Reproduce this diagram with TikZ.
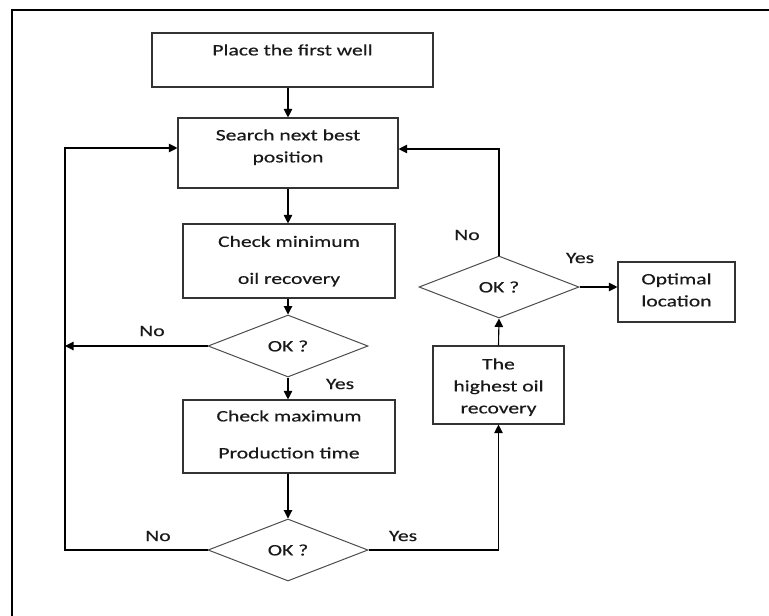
\documentclass[tikz,border=0pt]{standalone}
\usepackage{fontspec}
\setmainfont[FakeStretch=1.35,FakeBold=0.4]{Carlito}
\usetikzlibrary{shapes.geometric,arrows.meta}
% stacked, centred lines drawn #1 higher than the box's own centre
\newcommand\boxtext[2]{\raisebox{#1}[\height][\depth]{\begin{tabular}{@{}c@{}}#2\end{tabular}}}

\begin{document}
\begin{tikzpicture}[x=1pt,y=-1pt,
  every node/.style={font=\fontsize{16}{22}\selectfont, text=black!90},
  stepbox/.style={draw=black!80, line width=1.1pt, inner sep=0pt},
  test/.style={shape=diamond, draw=black!70, line width=1pt,
    minimum width=160pt, minimum height=62pt, inner sep=0pt},
  flow/.style={draw=black, line width=1.1pt, -{Triangle[length=8.5pt,width=8.5pt]}},
  tag/.style={inner sep=0pt}]
\useasboundingbox (0,0) rectangle (769,616);

% frame
\draw[line width=1.5pt] (12,616) -- (12,10) -- (769,10);

% process boxes
\node[stepbox, minimum width=281pt, minimum height=54pt] (place) at (292.5,60)
  {\boxtext{9pt}{Place the first well}};
\node[stepbox, minimum width=220pt, minimum height=70pt] (search) at (288,153)
  {\boxtext{6pt}{Search next best\\position}};
\node[stepbox, minimum width=212pt, minimum height=74pt] (checkmin) at (289,261)
  {\boxtext{0pt}{Check minimum\\[15pt]oil recovery}};
\node[stepbox, minimum width=212pt, minimum height=73pt] (checkmax) at (289,436.5)
  {\boxtext{1pt}{Check maximum\\[15pt]Production time}};
\node[stepbox, minimum width=131pt, minimum height=78pt] (highest) at (498.5,385)
  {\boxtext{-2pt}{The\\highest oil\\recovery}};
\node[stepbox, minimum width=117pt, minimum height=60pt] (optimal) at (676.5,292)
  {\boxtext{1pt}{Optimal\\location}};

% decisions
\node[test] (okmin) at (288,346) {OK ?};
\node[test] (okmax) at (288,550) {OK ?};
\node[test] (okbest) at (499,287) {OK ?};

% free ends of the loops
\coordinate (noend) at (65,346);
\coordinate (loopleft) at (65,148);
\coordinate (loopright) at (498,149);

% connectors
\draw[flow] (search.north |- place.south) -- (search.north);
\draw[flow] (search.south) -- (search.south |- checkmin.north);
\draw[flow] (okmin.north |- checkmin.south) -- (okmin.north);
\draw[flow] (okmin.west) -- (noend);
\draw[flow] (okmin.south) -- (okmin.south |- checkmax.north);
\draw[flow] (okmax.north |- checkmax.south) -- (okmax.north);
\draw[flow] (okmax.west) -| (loopleft) -- (search.west |- loopleft);
\draw[flow] (okmax.east) -| (highest.south);
\draw[flow] (highest.north) -- (okbest.south);
\draw[flow] (okbest.east) -- (optimal.west |- okbest.east);
\draw[flow] (okbest.north) -- (okbest.north |- loopright) -- (search.east |- loopright);

% branch labels
\node[tag] (nomin) at (152,331) {No};
\node[tag] (yesmin) at (340,384) {Yes};
\node[tag] (nomax) at (158,536) {No};
\node[tag] (yesmax) at (403,536) {Yes};
\node[tag] (nobest) at (467,235) {No};
\node[tag] (yesbest) at (580,258) {Yes};
\end{tikzpicture}
\end{document}
